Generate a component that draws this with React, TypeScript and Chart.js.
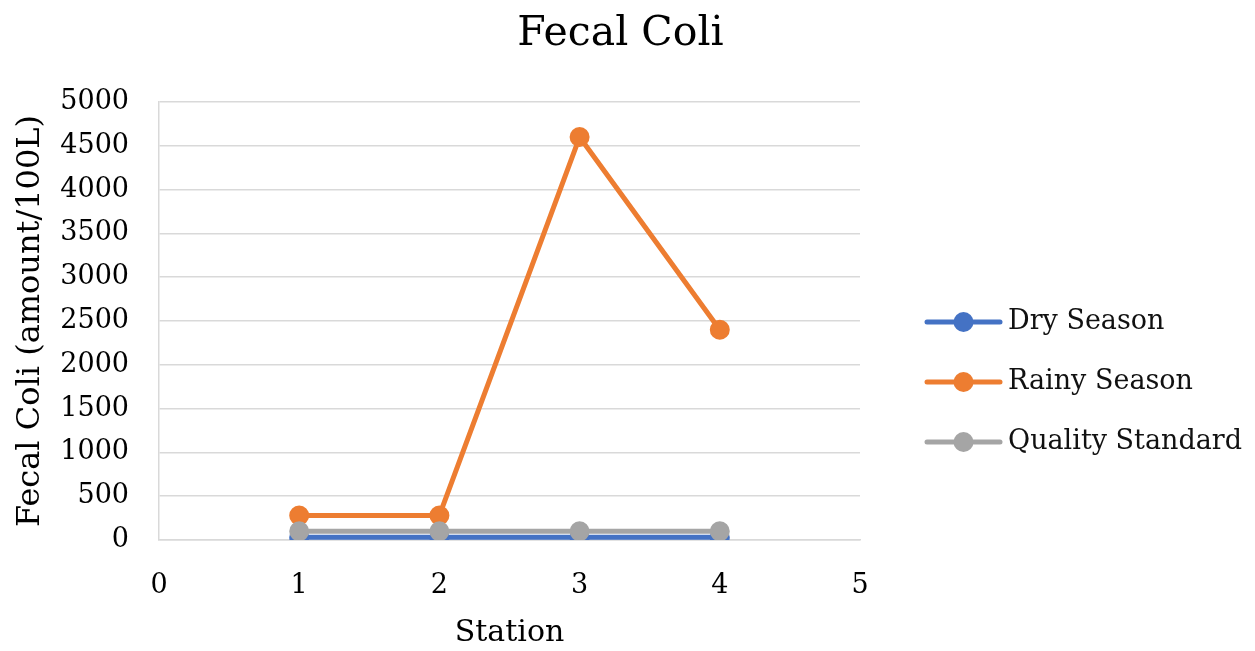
import React, { useEffect, useRef } from "react";
import { Chart, registerables } from "chart.js";

Chart.register(...registerables);

// Station numbers along the x axis
const stations = [1, 2, 3, 4];

// Fecal coli readings (amount/100L) per station
const drySeason = [30, 30, 30, 30];
const rainySeason = [280, 280, 4600, 2400];
const qualityStandard = [100, 100, 100, 100];

const seriesNames = ["Dry Season", "Rainy Season", "Quality Standard"];
const seriesColors = ["#4472C4", "#ED7D31", "#A5A5A5"];

const chartTitle = "Fecal Coli";

// Axis ranges
const xRange = { min: 0, max: 5, step: 1 };
const yRange = { min: 0, max: 5000, step: 500 };

const FONT = "'DejaVu Serif', serif";
const GRID = "#d9d9d9";

// Title centred over the whole canvas
const canvasTitle = {
  id: "canvasTitle",
  afterDraw(chart: any) {
    const { ctx, width } = chart;
    ctx.save();
    ctx.fillStyle = "#000";
    ctx.font = `41px ${FONT}`;
    ctx.textAlign = "center";
    ctx.textBaseline = "alphabetic";
    ctx.fillText(chartTitle, width / 2 - 7, 45);
    ctx.restore();
  },
};

// Legend drawn at the right of the plot: a line with a marker, then the name
const sideLegend = {
  id: "sideLegend",
  afterDraw(chart: any) {
    const { ctx, chartArea } = chart;
    const lineStart = chartArea.right + 67;
    const lineEnd = lineStart + 73;
    const textX = lineEnd + 8;
    const firstY = chartArea.top + 220;
    const gap = 60;
    ctx.save();
    chart.data.datasets.forEach((ds: any, i: number) => {
      const y = firstY + i * gap;
      ctx.strokeStyle = ds.borderColor;
      ctx.lineWidth = 5;
      ctx.lineCap = "round";
      ctx.beginPath();
      ctx.moveTo(lineStart, y);
      ctx.lineTo(lineEnd, y);
      ctx.stroke();
      ctx.fillStyle = ds.borderColor;
      ctx.beginPath();
      ctx.arc((lineStart + lineEnd) / 2, y, 10, 0, Math.PI * 2);
      ctx.fill();
      ctx.fillStyle = "#111";
      ctx.font = `27px ${FONT}`;
      ctx.textAlign = "left";
      ctx.textBaseline = "middle";
      ctx.fillText(ds.label, textX, y);
    });
    ctx.restore();
  },
};

export default function App() {
  const canvasRef = useRef<HTMLCanvasElement | null>(null);

  useEffect(() => {
    const canvas = canvasRef.current;
    if (!canvas) return;
    const values = [drySeason, rainySeason, qualityStandard];
    const drawOrder = [2, 1, 0];
    const chart = new Chart(canvas, {
      type: "line",
      data: {
        datasets: values.map((vals, i) => ({
          label: seriesNames[i],
          data: stations.map((s, j) => ({ x: s, y: vals[j] })),
          borderColor: seriesColors[i],
          backgroundColor: seriesColors[i],
          pointBackgroundColor: seriesColors[i],
          pointBorderColor: seriesColors[i],
          borderWidth: 5,
          pointRadius: 9,
          pointBorderWidth: 2,
          borderJoinStyle: "round" as const,
          borderCapStyle: "round" as const,
          tension: 0,
          order: drawOrder[i],
        })),
      },
      options: {
        animation: false,
        responsive: false,
        maintainAspectRatio: false,
        layout: { padding: { left: 0, right: 395, top: 102, bottom: 0 } },
        plugins: {
          legend: { display: false },
          tooltip: { enabled: false },
          title: { display: false },
        },
        scales: {
          x: {
            type: "linear",
            min: xRange.min,
            max: xRange.max,
            ticks: {
              stepSize: xRange.step,
              color: "#000",
              font: { family: FONT, size: 27 },
              padding: 30,
              callback: (v: any) => String(v),
            },
            grid: { display: false, drawTicks: false },
            border: { display: true, color: GRID, width: 1.5 },
            title: {
              display: true,
              text: "Station",
              color: "#000",
              font: { family: FONT, size: 30 },
              padding: { top: 0, bottom: 0 },
            },
            afterFit: (scale: any) => {
              scale.height = 111;
            },
          },
          y: {
            type: "linear",
            min: yRange.min,
            max: yRange.max,
            ticks: {
              stepSize: yRange.step,
              color: "#000",
              font: { family: FONT, size: 27 },
              padding: 30,
              callback: (v: any) => String(v),
            },
            grid: { color: GRID, lineWidth: 1.5, drawTicks: false },
            border: { display: true, color: GRID, width: 1.5 },
            title: {
              display: true,
              text: "Fecal Coli (amount/100L)",
              color: "#000",
              font: { family: FONT, size: 32 },
              padding: { top: 11, bottom: 0 },
            },
            afterFit: (scale: any) => {
              scale.width = 159;
            },
          },
        },
      },
      plugins: [canvasTitle, sideLegend],
    });
    return () => chart.destroy();
  }, []);

  return (
    <div style={{ position: "fixed", left: 0, top: 0, width: 1255, height: 651, background: "#fff" }}>
      <canvas ref={canvasRef} width={1255} height={651} />
    </div>
  );
}
